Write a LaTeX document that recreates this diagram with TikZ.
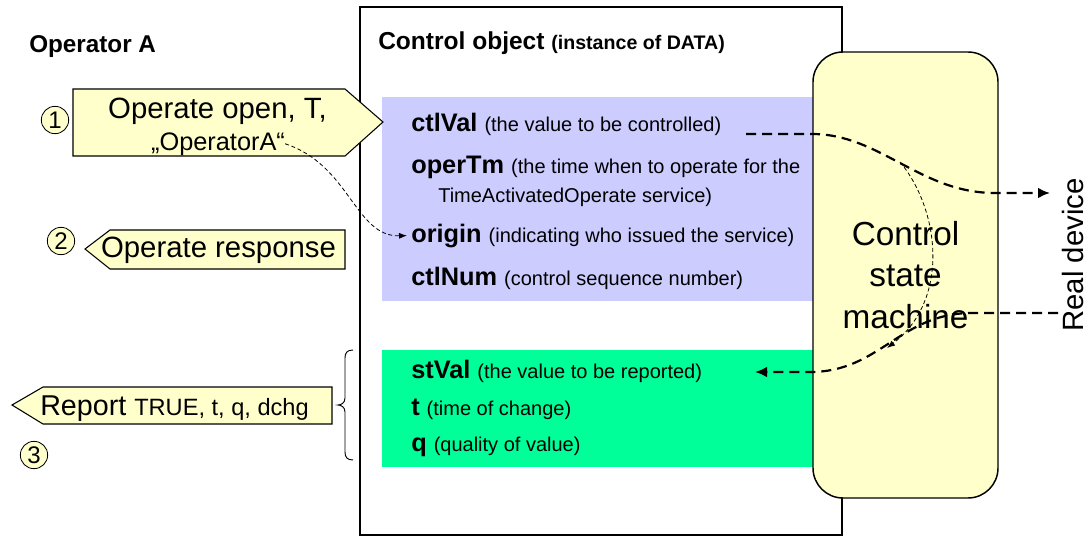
\documentclass[tikz,border=0pt]{standalone}
\usepackage{fontspec}
\setmainfont{Liberation Sans}
\usetikzlibrary{arrows.meta}
\definecolor{paleyellow}{HTML}{FFFFCC}
\definecolor{paleblue}{HTML}{CCCCFF}
\definecolor{mintgreen}{HTML}{00FF99}
\newcommand\fsz[2]{\fontsize{#1}{#2}\selectfont}
\newcommand\fldname[1]{{\bfseries\fsz{19}{23}#1 }}
\newcommand\flddesc[1]{{\fsz{15}{18}#1}}
\begin{document}
\begin{tikzpicture}[x=0.75pt,y=-0.75pt,
  lbl/.style={inner sep=0pt, anchor=base west},
  ctext/.style={inner sep=0pt, anchor=base},
  tag/.style={draw, fill=paleyellow, line width=0.8pt, line join=miter},
  thickdash/.style={line width=1.65pt, dash pattern=on 7.5pt off 4.5pt, -{Latex[length=9pt,width=8pt]}},
  thindash/.style={line width=0.6pt, dash pattern=on 3pt off 2pt, -{Latex[length=6pt,width=4.5pt]}},
  numcirc/.style={circle, draw, line width=0.6pt, fill=paleyellow, inner sep=0pt, minimum size=20.5pt, font=\fsz{18}{20}}
]
\useasboundingbox (0,0) rectangle (1088,539);

% outer frame of control object
\draw[line width=0.9pt] (360,7) rectangle (842,535);

% field areas
\fill[paleblue] (382,97) rectangle (813,301);
\fill[mintgreen] (382,350) rectangle (813,467);

% control state machine
\node[draw, fill=paleyellow, line width=1.1pt, rounded corners=22.5pt,
      minimum width=138.75pt, minimum height=334.5pt, inner sep=0pt,
      align=center, font=\fsz{25}{31.1}] (csm) at (905.5,275) {Control\\state\\machine};

% headings
\node[lbl, font=\bfseries\fsz{18.2}{22}] (opA) at (29,52) {Operator A};
\node[lbl] (cobj) at (378,49) {\bfseries\fsz{18.4}{22}Control object \fsz{14.7}{18}(instance of DATA)};

% real device
\node[inner sep=0pt, rotate=90, font=\fsz{22}{26}] (rd) at (1073,255) {Real device};

% operate request tag
\draw[tag] (73,89) -- (345,89) -- (383,122) -- (345,156) -- (73,156) -- cycle;
\node[ctext, font=\fsz{22}{26}] (op1) at (217.5,118) {Operate open, T,};
\node[ctext, font=\fsz{19}{22}] (op1b) at (218,150) {„OperatorA“};

% operate response tag
\draw[tag] (85,249) -- (110,230) -- (345,230) -- (345,269) -- (110,269) -- cycle;
\node[ctext, font=\fsz{22}{26}] (opr) at (218.5,257) {Operate response};

% report tag
\draw[tag] (12,405) -- (43,387) -- (332,387) -- (332,424) -- (43,424) -- cycle;
\node[lbl] (rep) at (40,415) {\fsz{21.5}{25}Report \fsz{17.7}{21}TRUE, t, q, dchg};

% brace
\draw[line width=0.7pt] (353,350) .. controls (347,350) and (345,353) .. (345,358) -- (345,398)
  .. controls (345,403) and (341,405) .. (338,405) .. controls (341,405) and (345,407) .. (345,412)
  -- (345,452) .. controls (345,457) and (347,460) .. (353,460);

% numbers
\node[numcirc] (n1) at (55,120) {1};
\node[numcirc] (n2) at (61,241) {2};
\node[numcirc] (n3) at (34,455) {3};

% control fields
\node[lbl] (ctlval) at (411,131) {\fldname{ctlVal}\flddesc{(the value to be controlled)}};
\node[lbl] (opertm) at (411,173) {\fldname{operTm}\flddesc{(the time when to operate for the}};
\node[lbl] (opertm2) at (438,202) {\flddesc{TimeActivatedOperate service)}};
\node[lbl] (orig) at (411,242) {\fldname{origin}\flddesc{(indicating who issued the service)}};
\node[lbl] (ctlnum) at (411,285) {\fldname{ctlNum}\flddesc{(control sequence number)}};

% status fields
\node[lbl] (stval) at (411,378) {\fldname{stVal}\flddesc{(the value to be reported)}};
\node[lbl] (tfld) at (411,415) {\fldname{t}\flddesc{(time of change)}};
\node[lbl] (qfld) at (411,451) {\fldname{q}\flddesc{(quality of value)}};

% connector end points
\coordinate (a1s) at (746,134);
\coordinate (a1e) at (1050,193);
\coordinate (a2s) at (1058,313);
\coordinate (a2e) at (755,372);
\coordinate (a3s) at (900,162);
\coordinate (a3e) at (887,348);

% connectors
\draw[thickdash] (a1s) -- (812,134) .. controls (880,134) and (920,193) .. (995,193) -- (a1e);
\draw[thickdash] (a2s) -- (972,313) .. controls (900,313) and (880,372) .. (810,372) -- (a2e);
\draw[thindash] (a3s) .. controls (940,210) and (950,300) .. (a3e);
\draw[thindash, shorten >=3pt] (op1b.east) .. controls (350,165) and (355,237) .. (orig.west);
\end{tikzpicture}
\end{document}
